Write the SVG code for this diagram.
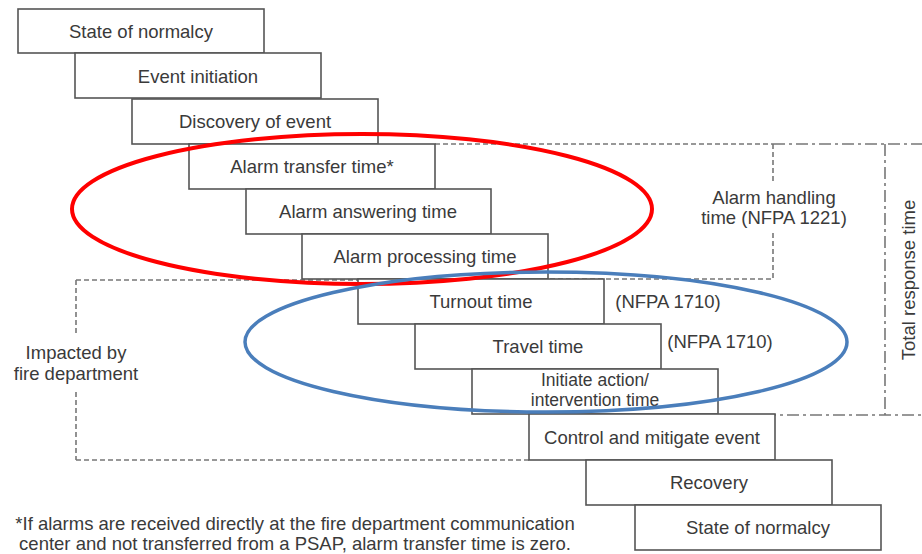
<svg xmlns="http://www.w3.org/2000/svg" width="922" height="554" viewBox="0 0 922 554">
<style>
.box rect{fill:#fff;stroke:#555;stroke-width:1.6}
text{font-family:"Liberation Sans",Arial,sans-serif;font-size:18.5px;fill:#3a3a3a;text-anchor:middle}
.small{font-size:17.5px}
.dash{fill:none;stroke:#777;stroke-width:1.6;stroke-dasharray:5 3}
.dd{fill:none;stroke:#777;stroke-width:1.6;stroke-dasharray:12 4 3 4}
</style>
<rect width="922" height="554" fill="#fff"/>
<g id="regions">
<path class="dash" d="M435 144H773M773 144V182M773 233V279H548"/>
<path class="dd" d="M773 144H922M885 144V415M718 415H922"/>
<path class="dash" d="M76 280H358M76 460H529M76 280V335M76 392V460"/>
<text x="774" y="204">Alarm handling</text>
<text x="774" y="224">time (NFPA 1221)</text>
<text x="76" y="359">Impacted by</text>
<text x="76" y="380">fire department</text>
<text transform="translate(915 280) rotate(-90)">Total response time</text>
</g>
<g id="n1" class="box"><rect x="18" y="9" width="246" height="44"/><text x="141" y="38">State of normalcy</text></g>
<g id="n2" class="box"><rect x="75" y="53" width="246" height="45"/><text x="198" y="83">Event initiation</text></g>
<g id="n3" class="box"><rect x="132" y="99" width="246" height="45"/><text x="255" y="128">Discovery of event</text></g>
<g id="n4" class="box"><rect x="189" y="144" width="246" height="45"/><text x="312" y="173">Alarm transfer time*</text></g>
<g id="n5" class="box"><rect x="246" y="189" width="245" height="45"/><text x="368" y="218">Alarm answering time</text></g>
<g id="n6" class="box"><rect x="302" y="234" width="246" height="45"/><text x="425" y="263">Alarm processing time</text></g>
<g id="n7" class="box"><rect x="358" y="279" width="246" height="45"/><text x="481" y="308">Turnout time</text></g>
<g id="n8" class="box"><rect x="415" y="324" width="246" height="45"/><text x="538" y="353">Travel time</text></g>
<g id="n9" class="box"><rect x="472" y="369" width="246" height="45"/><text class="small" x="595" y="386">Initiate action/</text><text class="small" x="595" y="406">intervention time</text></g>
<g id="n10" class="box"><rect x="529" y="414" width="246" height="46"/><text x="652" y="444">Control and mitigate event</text></g>
<g id="n11" class="box"><rect x="586" y="460" width="246" height="45"/><text x="709" y="489">Recovery</text></g>
<g id="n12" class="box"><rect x="635" y="505" width="246" height="45"/><text x="758" y="534">State of normalcy</text></g>
<g id="labels">
<text x="668" y="308">(NFPA 1710)</text>
<text x="720" y="348">(NFPA 1710)</text>
<text x="295" y="530">*If alarms are received directly at the fire department communication</text>
<text x="295" y="550">center and not transferred from a PSAP, alarm transfer time is zero.</text>
</g>
<g id="highlights" fill="none">
<ellipse cx="362" cy="209" rx="290" ry="75" stroke="#ff0000" stroke-width="4"/>
<ellipse cx="546" cy="342" rx="301" ry="70" stroke="#4a7ebb" stroke-width="3.5"/>
</g>
</svg>
